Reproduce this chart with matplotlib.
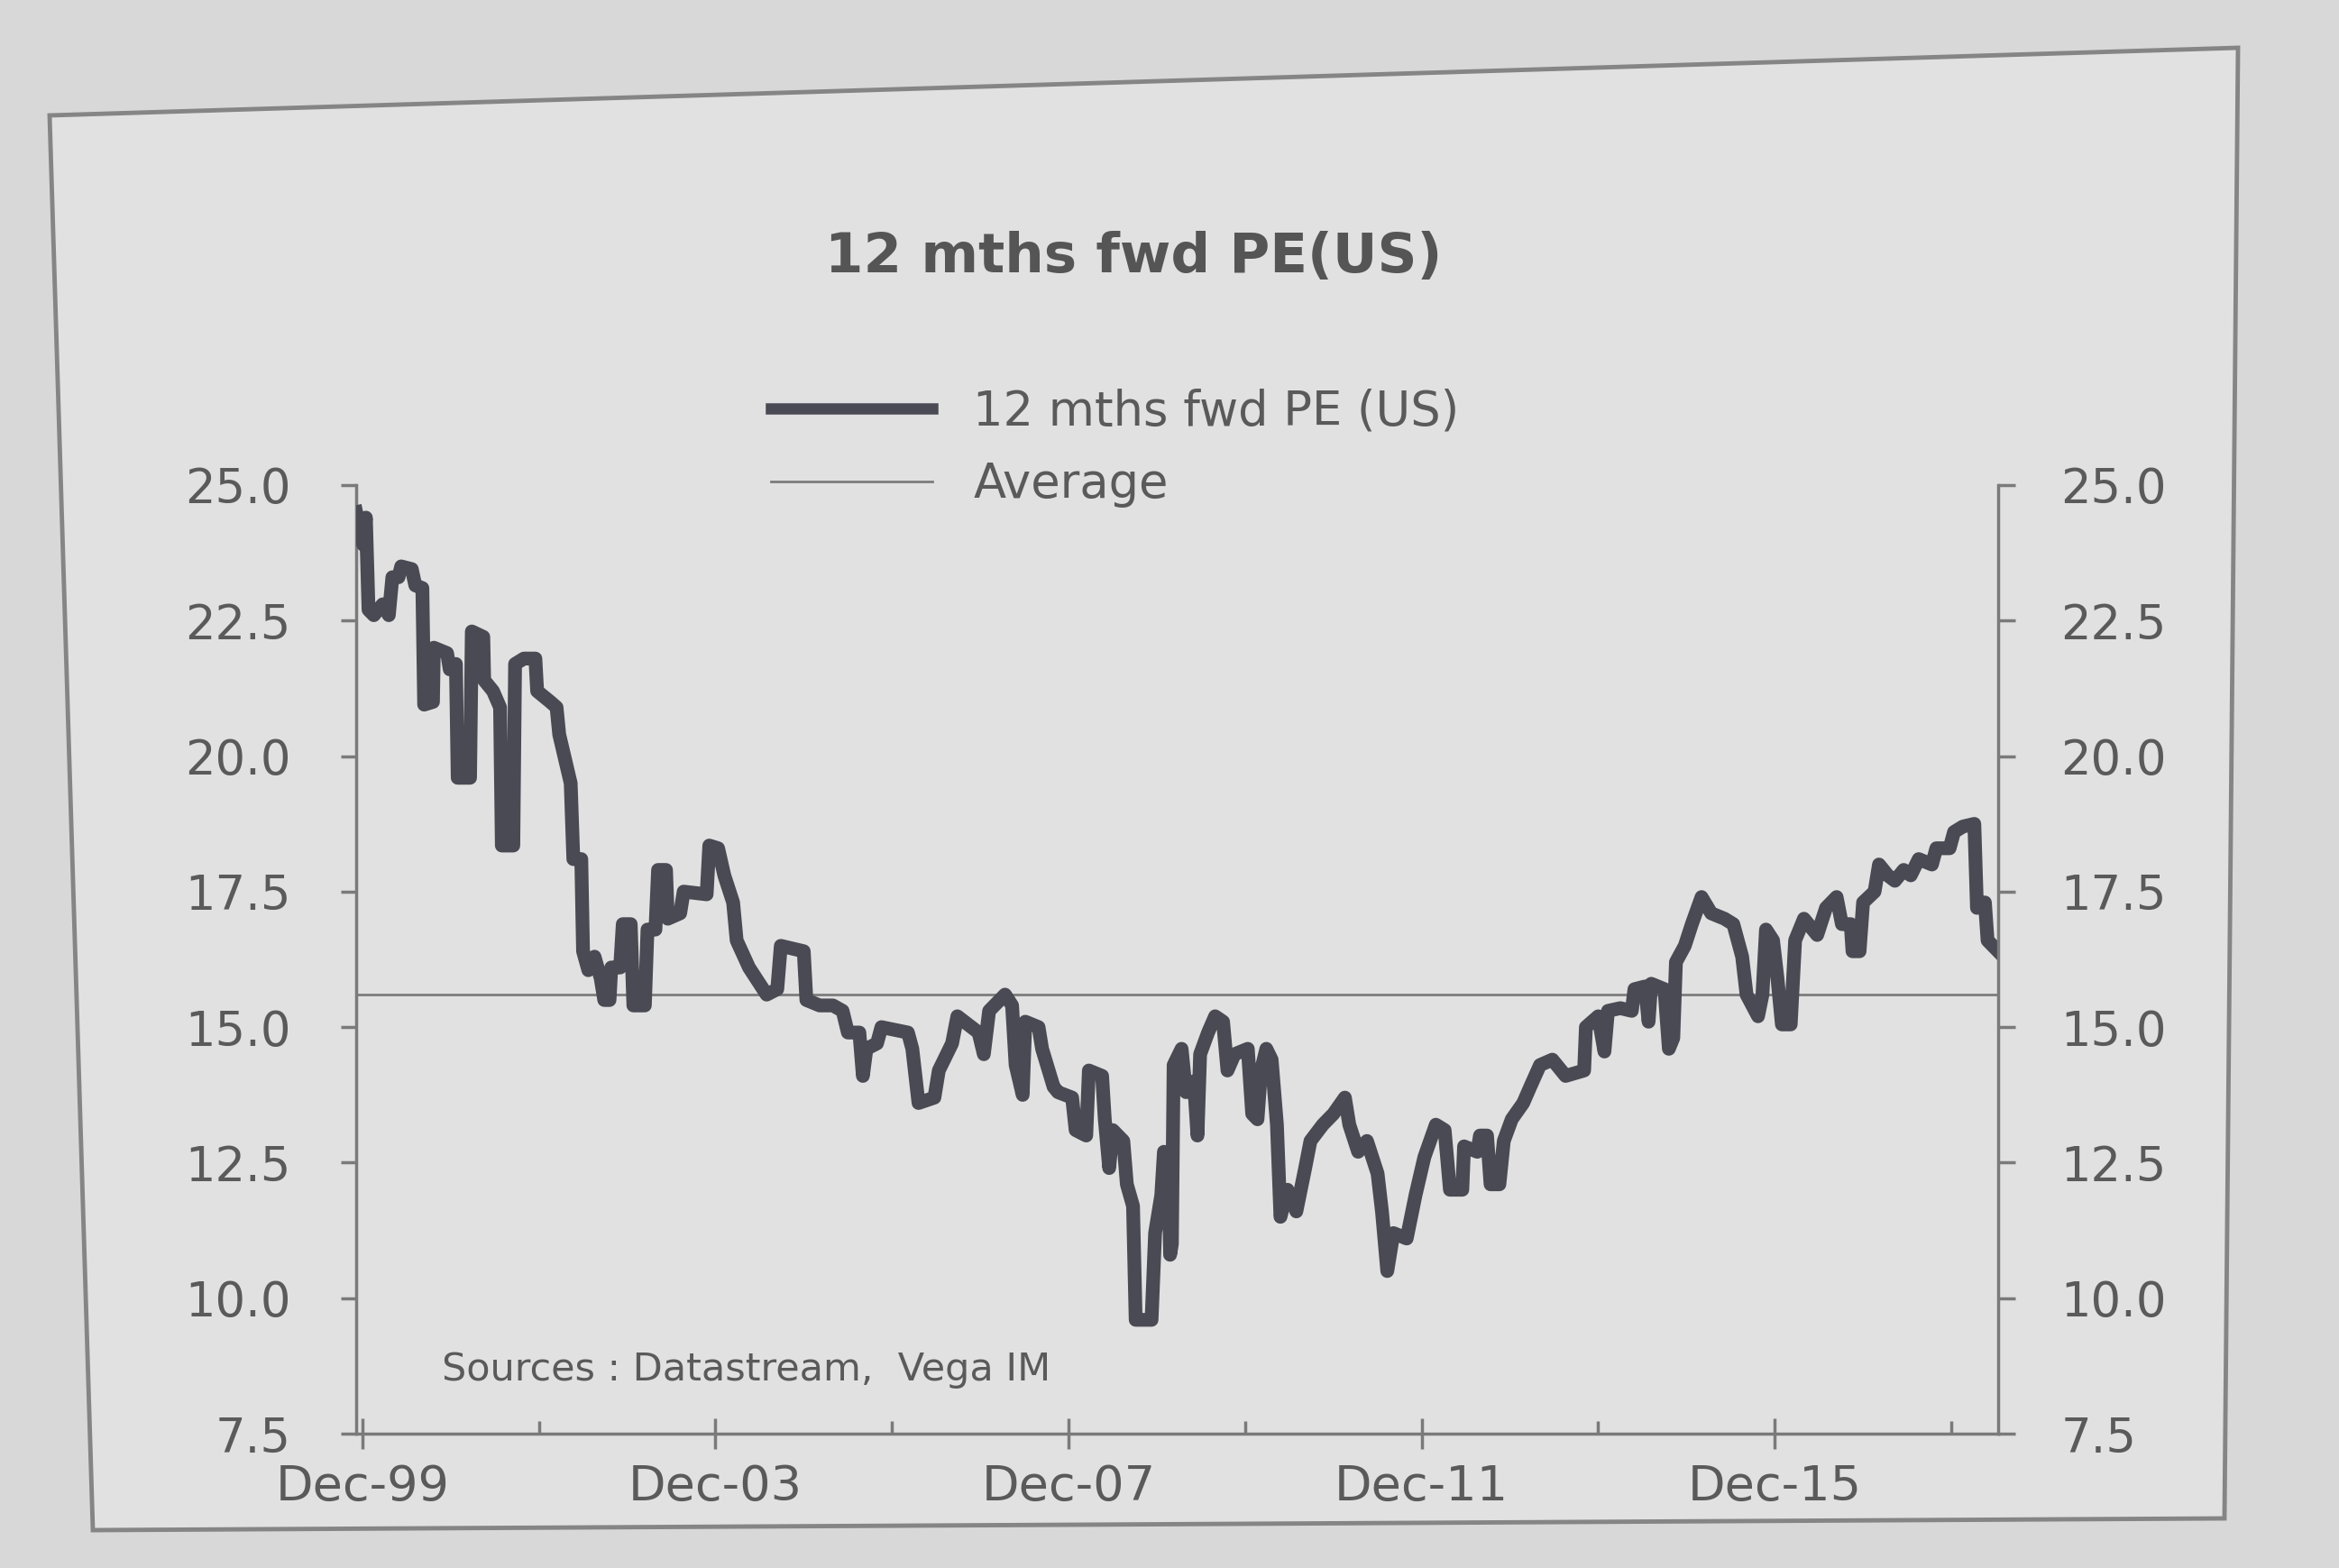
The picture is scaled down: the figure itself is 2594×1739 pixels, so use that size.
import matplotlib
matplotlib.use("Agg")
import matplotlib.pyplot as plt
from matplotlib.patches import Polygon
from matplotlib.lines import Line2D

# ---------------- data ----------------
years = [
    1999.85, 1999.93, 1999.96, 1999.99, 2000.05, 2000.15, 2000.22, 2000.26, 2000.33, 2000.36,
    2000.48, 2000.52, 2000.60, 2000.62, 2000.72, 2000.73, 2000.88, 2000.91, 2000.98, 2001.00,
    2001.14, 2001.16, 2001.29, 2001.30, 2001.40, 2001.48, 2001.50, 2001.63, 2001.65, 2001.75,
    2001.88, 2001.90, 2002.05, 2002.12, 2002.15, 2002.28, 2002.31, 2002.40, 2002.42, 2002.48,
    2002.55, 2002.62, 2002.66, 2002.72, 2002.74, 2002.84, 2002.87, 2002.96, 2002.99, 2003.12,
    2003.15, 2003.24, 2003.27, 2003.36, 2003.38, 2003.52, 2003.56, 2003.82, 2003.85, 2003.95,
    2004.02, 2004.12, 2004.16, 2004.30, 2004.38, 2004.50, 2004.62, 2004.66, 2004.92, 2004.95,
    2005.10, 2005.25,
    2005.36, 2005.42, 2005.55, 2005.59, 2005.63, 2005.75, 2005.80, 2006.10, 2006.15, 2006.22,
    2006.40, 2006.45, 2006.60, 2006.66, 2006.90, 2006.96, 2007.02, 2007.20, 2007.28, 2007.32,
    2007.40, 2007.43, 2007.58, 2007.62, 2007.75, 2007.80, 2007.96, 2008.00, 2008.12, 2008.15,
    2008.30, 2008.33, 2008.38, 2008.42, 2008.54, 2008.58, 2008.65, 2008.68, 2008.86, 2008.90,
    2008.97, 2009.00, 2009.05, 2009.07, 2009.09, 2009.11, 2009.20, 2009.25, 2009.34, 2009.38,
    2009.41, 2009.50, 2009.58, 2009.67, 2009.72, 2009.80, 2009.95, 2010.00, 2010.06, 2010.10,
    2010.16, 2010.22, 2010.28, 2010.32, 2010.40, 2010.50, 2010.60, 2010.66, 2010.80, 2010.92,
    2011.05, 2011.10, 2011.20, 2011.30, 2011.42, 2011.47, 2011.53, 2011.60, 2011.75, 2011.85,
    2011.95, 2012.08, 2012.18,
    2012.24, 2012.38, 2012.40, 2012.55, 2012.58, 2012.66, 2012.70, 2012.80, 2012.85, 2012.94,
    2013.07, 2013.15, 2013.26, 2013.40, 2013.55, 2013.76, 2013.78, 2013.92, 2013.99, 2014.03,
    2014.17, 2014.30, 2014.33, 2014.45, 2014.49, 2014.52, 2014.67, 2014.72, 2014.77, 2014.80,
    2014.90, 2014.98, 2015.09, 2015.20, 2015.35, 2015.45, 2015.55, 2015.60, 2015.73, 2015.78,
    2015.82, 2015.90, 2015.95, 2016.00, 2016.10, 2016.15, 2016.25, 2016.40, 2016.50, 2016.62,
    2016.68, 2016.78, 2016.80, 2016.88, 2016.92, 2017.05, 2017.10, 2017.20, 2017.28, 2017.38,
    2017.46, 2017.55, 2017.70, 2017.75, 2017.90, 2017.95, 2018.05, 2018.18, 2018.21, 2018.30,
    2018.33, 2018.45,
]
pe_fwd = [
    24.5, 23.9, 24.4, 22.7, 22.6, 22.8, 22.6, 23.3, 23.3, 23.5,
    23.45, 23.15, 23.1, 20.95, 21.0, 22.0, 21.9, 21.6, 21.7, 19.6,
    19.6, 22.3, 22.2, 21.4, 21.2, 20.9, 18.35, 18.35, 21.7, 21.8,
    21.8, 21.2, 21.0, 20.9, 20.4, 19.5, 18.1, 18.1, 16.4, 16.05,
    16.3, 15.9, 15.5, 15.5, 16.1, 16.1, 16.9, 16.9, 15.4, 15.4,
    16.8, 16.8, 17.9, 17.9, 17.0, 17.1, 17.5, 17.45, 18.35, 18.3,
    17.8, 17.3, 16.6, 16.1, 15.9, 15.6, 15.7, 16.5, 16.4, 15.5,
    15.4, 15.4,
    15.3, 14.9, 14.9, 14.1, 14.6, 14.7, 15.0, 14.9, 14.6, 13.6,
    13.7, 14.2, 14.7, 15.2, 14.9, 14.5, 15.3, 15.6, 15.4, 14.3,
    13.75, 15.1, 15.0, 14.6, 13.9, 13.8, 13.7, 13.1, 13.0, 14.2,
    14.1, 13.3, 12.4, 13.1, 12.9, 12.1, 11.7, 9.6, 9.6, 11.2,
    11.9, 12.7, 12.5, 10.8, 11.0, 14.3, 14.6, 13.8, 14.0, 13.0,
    14.5, 14.9, 15.2, 15.1, 14.2, 14.5, 14.6, 13.4, 13.3, 14.2,
    14.6, 14.4, 13.2, 11.5, 12.0, 11.6, 12.4, 12.9, 13.2, 13.4,
    13.7, 13.2, 12.7, 12.9, 12.3, 11.6, 10.5, 11.2, 11.1, 11.9,
    12.6, 13.2, 13.1,
    12.0, 12.0, 12.8, 12.7, 13.0, 13.0, 12.1, 12.1, 12.9, 13.3,
    13.6, 13.9, 14.3, 14.4, 14.1, 14.2, 15.0, 15.2, 14.55, 15.3,
    15.35, 15.3, 15.7, 15.75, 15.1, 15.8, 15.7, 14.6, 14.8, 16.2,
    16.5, 16.9, 17.4, 17.1, 17.0, 16.9, 16.3, 15.6, 15.2, 15.6,
    16.8, 16.6, 15.9, 15.05, 15.05, 16.6, 17.0, 16.7, 17.2, 17.4,
    16.9, 16.9, 16.4, 16.4, 17.3, 17.5, 18.0, 17.8, 17.7, 17.9,
    17.8, 18.1, 18.0, 18.3, 18.3, 18.6, 18.7, 18.75, 17.2, 17.3,
    16.6, 16.4,
]
average_pe = 15.6

x_tick_years = [1999.92, 2003.92, 2007.92, 2011.92, 2015.92]
x_tick_labels = ["Dec-99", "Dec-03", "Dec-07", "Dec-11", "Dec-15"]
x_minor_years = [2001.92, 2005.92, 2009.92, 2013.92, 2017.92]
y_ticks = [7.5, 10.0, 12.5, 15.0, 17.5, 20.0, 22.5, 25.0]
y_tick_labels = [f"{v:.1f}" for v in y_ticks]

title_text = "12 mths fwd PE(US)"
series_label = "12 mths fwd PE (US)"
average_label = "Average"
source_text = "Sources : Datastream,  Vega IM"

# ---------------- styling ----------------
W, H = 2594, 1739
plt.rcParams['font.family'] = ['DejaVu Sans']
TEXT = '#5a5a5a'
AXC = '#7a7a7a'
LINE = '#4a4a54'

fig = plt.figure(figsize=(W / 100, H / 100), dpi=100)
fig.patch.set_facecolor('#d8d8d8')

frame = Polygon([(55 / W, 1 - 128 / H), (2482 / W, 1 - 53 / H),
                 (2467 / W, 1 - 1684 / H), (103 / W, 1 - 1697 / H)],
                closed=True, transform=fig.transFigure,
                facecolor='#e1e1e1', edgecolor='#858585', linewidth=3.5, zorder=-5)
fig.add_artist(frame)

left_px, right_px, top_px, bottom_px = 395, 2216, 538, 1590
ax = fig.add_axes([left_px / W, 1 - bottom_px / H,
                   (right_px - left_px) / W, (bottom_px - top_px) / H])
ax.set_facecolor('none')

ax.plot(years, pe_fwd, color=LINE, lw=11, solid_joinstyle='round', zorder=3)
ax.axhline(average_pe, color='#7d7d7d', lw=2, zorder=2)

ax.set_xlim(1999.85, 2018.45)
ax.set_ylim(7.5, 25)

for s in ['top', 'right']:
    ax.spines[s].set_visible(False)
for s in ['left', 'bottom']:
    ax.spines[s].set_color(AXC)
    ax.spines[s].set_linewidth(2.5)

ax.set_yticks(y_ticks)
ax.set_yticklabels(y_tick_labels)
ax.tick_params(axis='y', direction='out', length=12, width=2.5, color=AXC,
               labelsize=38, labelcolor=TEXT, pad=40)

ax.set_xticks(x_tick_years)
ax.set_xticklabels(x_tick_labels)
ax.set_xticks(x_minor_years, minor=True)
ax.tick_params(axis='x', which='major', direction='inout', length=24, width=2.5,
               color=AXC, labelsize=39, labelcolor=TEXT, pad=12)
ax.tick_params(axis='x', which='minor', direction='in', length=10, width=2.5, color=AXC)

ax2 = ax.twinx()
ax2.set_ylim(7.5, 25)
for s in ['top', 'left', 'bottom']:
    ax2.spines[s].set_visible(False)
ax2.spines['right'].set_color(AXC)
ax2.spines['right'].set_linewidth(2.5)
ax2.set_yticks(y_ticks)
ax2.set_yticklabels(y_tick_labels)
ax2.tick_params(axis='y', direction='out', length=14, width=2.5, color=AXC,
                labelsize=38, labelcolor=TEXT, pad=36)

fig.text(1257 / W, 1 - 285 / H, title_text, ha='center', va='center',
         fontsize=44, fontweight='bold', color='#555555')

handles = [Line2D([], [], color=LINE, lw=9),
           Line2D([], [], color='#7d7d7d', lw=2)]
fig.legend(handles, [series_label, average_label], loc='upper left',
           bbox_to_anchor=(855 / W, 1 - 430 / H), frameon=False, fontsize=38,
           labelcolor=TEXT, handlelength=3.4, handletextpad=0.85,
           labelspacing=0.55, borderpad=0, borderaxespad=0)

fig.text(490 / W, 1 - 1519 / H, source_text, ha='left', va='center',
         fontsize=31, color=TEXT)

fig.savefig('out.png', dpi=100, facecolor=fig.get_facecolor())
